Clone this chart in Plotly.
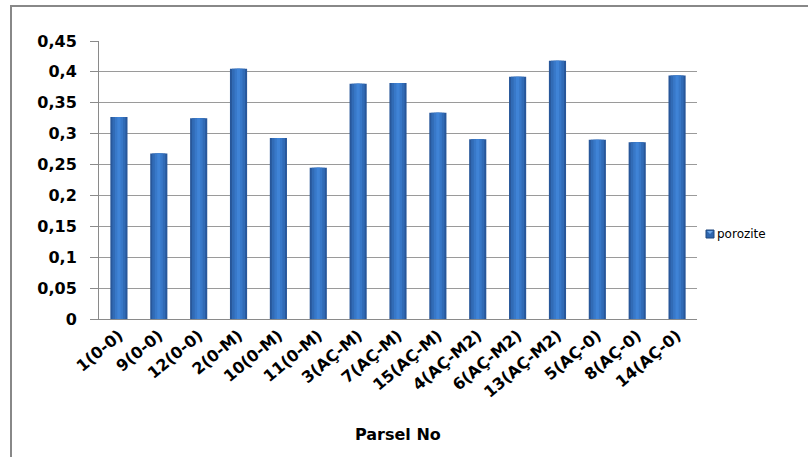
import plotly.graph_objects as go

# Parcel labels and measured porosity values
parseller = ["1(0-0)", "9(0-0)", "12(0-0)", "2(0-M)", "10(0-M)", "11(0-M)",
             "3(AÇ-M)", "7(AÇ-M)", "15(AÇ-M)", "4(AÇ-M2)", "6(AÇ-M2)",
             "13(AÇ-M2)", "5(AÇ-0)", "8(AÇ-0)", "14(AÇ-0)"]
porozite = [0.327, 0.268, 0.325, 0.405, 0.293, 0.245,
            0.381, 0.382, 0.334, 0.291, 0.392,
            0.418, 0.290, 0.286, 0.394]
y_ticks = [0, 0.05, 0.1, 0.15, 0.2, 0.25, 0.3, 0.35, 0.4, 0.45]
series_name = "porozite"

FONT = "DejaVu Sans"
PLOT_W = 808 - 99 - 111
PLOT_H = 457 - 41 - 138

fig = go.Figure()

# Layered bars of decreasing width give the shaded, cylinder-like look
layers = [
    (0.43, "#28579a"),
    (0.33, "#316bb6"),
    (0.20, "#3878c8"),
    (0.08, "#3f83d6"),
]
for w, col in layers:
    fig.add_trace(go.Bar(
        x=parseller, y=porozite, name=series_name, width=w,
        marker=dict(color=col, line=dict(width=0)),
        showlegend=False, hoverinfo="x+y",
    ))


def px_x(px):
    """Convert a horizontal pixel offset from the plot's left edge to paper units."""
    return px / PLOT_W


def px_y(px):
    """Convert a vertical pixel offset above the plot's bottom edge to paper units."""
    return px / PLOT_H


# Compact legend: small swatch plus the series name
leg_cx, leg_cy = 710 - 99, 319 - 234
shapes = [
    dict(type="rect", xref="paper", yref="paper",
         x0=px_x(-88), x1=1.5, y0=-0.8, y1=1 + px_y(35),
         line=dict(color="#888888", width=2), fillcolor="rgba(0,0,0,0)",
         layer="below"),
    dict(type="rect", xref="paper", yref="paper",
         x0=px_x(leg_cx - 4), x1=px_x(leg_cx + 4),
         y0=px_y(leg_cy - 4), y1=px_y(leg_cy + 4),
         line=dict(color="#1f467c", width=1), fillcolor="#2f66ae"),
    dict(type="path", xref="paper", yref="paper",
         path=(f"M {px_x(leg_cx - 3)} {px_y(leg_cy + 3)} "
               f"L {px_x(leg_cx + 3)} {px_y(leg_cy + 3)} "
               f"L {px_x(leg_cx)} {px_y(leg_cy)} Z"),
         line=dict(width=0), fillcolor="#6fa8e8"),
]

fig.update_layout(
    width=808, height=457,
    margin=dict(l=99, r=111, t=41, b=138, autoexpand=False),
    paper_bgcolor="white", plot_bgcolor="white",
    barmode="overlay",
    showlegend=False,
    font=dict(family=FONT, color="black"),
    annotations=[
        dict(text="<b>Parsel No</b>", xref="paper", yref="paper",
             x=0.5, y=-0.415, xanchor="center", yanchor="middle",
             showarrow=False, font=dict(family=FONT, size=16, color="black")),
        dict(text=series_name, xref="paper", yref="paper",
             x=px_x(leg_cx + 5), y=px_y(leg_cy), xanchor="left", yanchor="middle",
             showarrow=False, font=dict(family=FONT, size=12, color="black")),
    ],
    shapes=shapes,
)

fig.update_xaxes(
    tickangle=-40,
    tickfont=dict(family=FONT, size=16, color="black", weight="bold"),
    showline=True, linecolor="#8a8a8a", linewidth=1,
    showgrid=False, ticks="",
)
fig.update_yaxes(
    range=[0, 0.45], tickvals=y_ticks,
    ticktext=[f"{v:g}".replace(".", ",") for v in y_ticks],
    tickfont=dict(family=FONT, size=16, color="black", weight="bold"),
    showline=True, linecolor="#8a8a8a", linewidth=1,
    ticks="outside", ticklen=8, tickcolor="#8a8a8a",
    ticklabelstandoff=10,
    showgrid=True, gridcolor="#9a9a9a", gridwidth=1,
    zeroline=False,
)

fig.write_html("out.html")
